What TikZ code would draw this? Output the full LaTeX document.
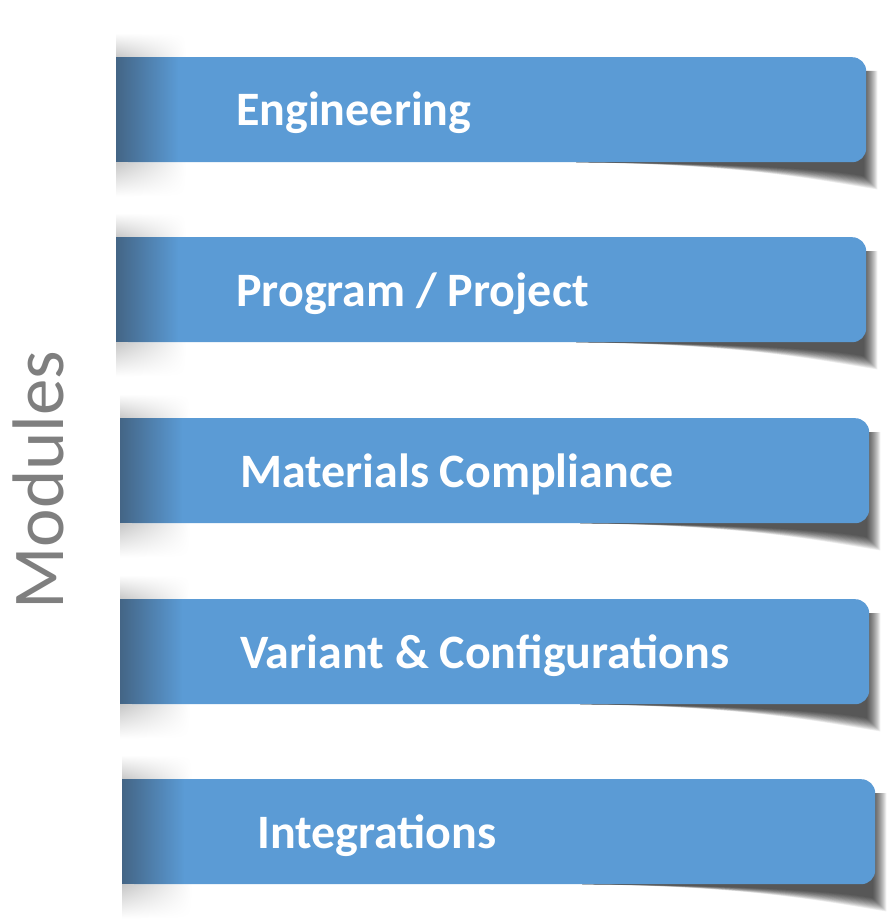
\documentclass[tikz,border=0pt]{standalone}
\usepackage{fontspec}
\setmainfont{Carlito}
\usepackage{xcolor}
\definecolor{ModBlue}{RGB}{91, 155, 213}
\definecolor{ModEdge}{RGB}{64, 92, 120}
\definecolor{ModGray}{RGB}{127, 127, 127}
\usepackage{tikz}
\usetikzlibrary{positioning, calc, backgrounds, shadings, fadings}

\tikzfading[name=fadeedge, left color=transparent!15, right color=transparent!100]

\begin{document}
\begin{tikzpicture}[
        x=1pt, y=-1pt,
        bar/.style={rectangle, fill=ModBlue, rounded corners=14pt, minimum width=750pt, minimum height=105pt, anchor=north west, inner sep=0pt},
        barlabel/.style={anchor=base west, text=white, inner sep=0pt, font=\fontsize{48}{58}\selectfont\bfseries},
        peel/.style={fill=black, opacity=0.07}
    ]
        \useasboundingbox (0,0) rectangle (889,923);

        % --- BARS ---
        \node[bar] (eng) at (116,57) {};
        \node[bar] (prog) at (116,237) {};
        \node[bar, minimum width=749pt] (mat) at (120,418) {};
        \node[bar, minimum width=749pt] (var) at (120,599) {};
        \node[bar, minimum width=753pt] (integ) at (122,779) {};

        % --- SHADOWS ---
        \begin{scope}[on background layer]
        \fill[white] (0,0) rectangle (889,923);
        \foreach \b in {eng, prog, mat, var, integ} {
            \foreach \d in {0, 1, ..., 13} {
                \fill[peel] ($(\b.south west)+(460,0)$) .. controls ($(\b.south east)+(-120,1)$) and ($(\b.south east)+(-30,8+\d)$) .. ($(\b.south east)+(\d-2,14+\d)$) -- ($(\b.north east)+(\d-2,14)$) -- ($(\b.north east)+(-20,14)$) -- cycle;
            }
            \shade[upper left=white, upper right=white, lower left=black!22, lower right=white] ($(\b.north west)+(0,-24)$) rectangle ($(\b.north west)+(70,0)$);
            \shade[upper left=black!22, upper right=white, lower left=white, lower right=white] (\b.south west) rectangle ($(\b.south west)+(70,34)$);
        }
        \end{scope}

        % --- LEFT EDGES ---
        \foreach \b in {eng, prog, mat, var, integ} {
            \fill[ModBlue] (\b.north west) rectangle ($(\b.south west)+(30,0)$);
            \fill[ModEdge, path fading=fadeedge] (\b.north west) rectangle ($(\b.south west)+(62,0)$);
        }

        % --- LABELS ---
        \node[barlabel] (engt) at ([xshift=120pt, yshift=-69pt]eng.north west) {Engineering};
        \node[barlabel] (progt) at ([xshift=120pt, yshift=-69pt]prog.north west) {Program / Project};
        \node[barlabel] (matt) at ([xshift=120pt, yshift=-69pt]mat.north west) {Materials Compliance};
        \node[barlabel] (vart) at ([xshift=120pt, yshift=-69pt]var.north west) {Variant \& Configurations};
        \node[barlabel] (integt) at ([xshift=135pt, yshift=-69pt]integ.north west) {Integrations};

        \node[rotate=90, anchor=base west, inner sep=0pt, text=ModGray, font=\fontsize{73}{86}\selectfont] (mods) at (63,610) {Modules};

    \end{tikzpicture}
\end{document}
